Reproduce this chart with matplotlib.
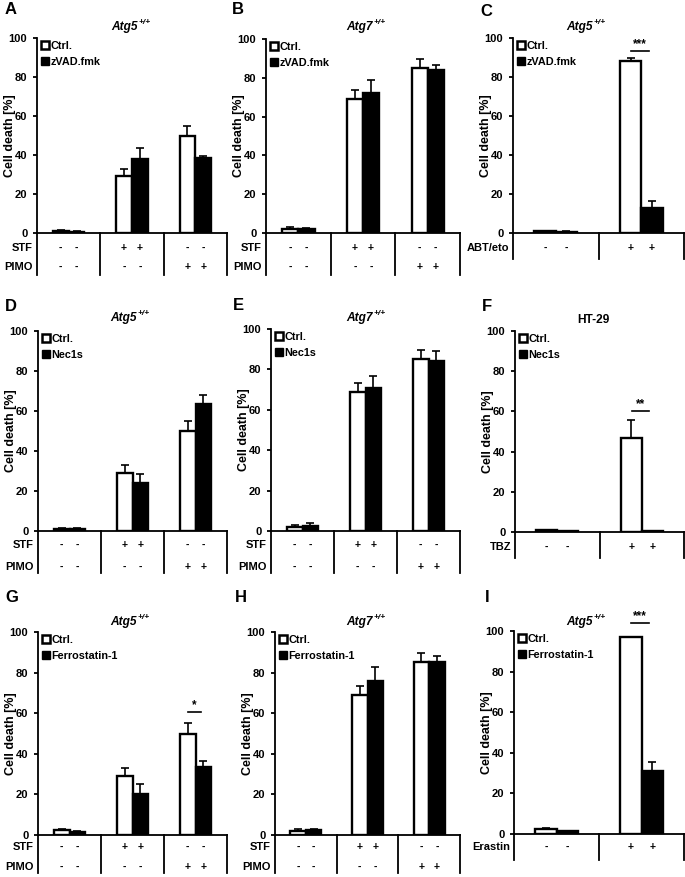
import matplotlib
matplotlib.use('Agg')
import matplotlib.pyplot as plt
import numpy as np
from matplotlib.patches import Patch
from matplotlib.transforms import blended_transform_factory

plt.rcParams['font.family'] = ['Liberation Sans', 'DejaVu Sans']
plt.rcParams['font.weight'] = 'bold'

W, H = 685, 877
fig = plt.figure(figsize=(W / 100, H / 100), dpi=100)

# ---------------- data ----------------
ctrl_label = "Ctrl."
row_stf = ['-', '-', '+', '+', '-', '-']
row_pimo = ['-', '-', '-', '-', '+', '+']
row_single = ['-', '-', '+', '+']

A_ctrl = [1.0, 29.0, 50.0]
A_ctrl_err = [0.3, 4.0, 5.0]
A_trt = [0.7, 38.0, 38.5]
A_trt_err = [0.2, 5.5, 1.0]

B_ctrl = [2.0, 69.0, 85.0]
B_ctrl_err = [0.9, 4.5, 4.5]
B_trt = [2.3, 72.0, 84.0]
B_trt_err = [0.5, 7.0, 2.5]

C_ctrl = [0.8, 88.0]
C_ctrl_err = [0.2, 2.0]
C_trt = [0.6, 13.0]
C_trt_err = [0.2, 3.6]

D_ctrl = [1.0, 29.0, 50.0]
D_ctrl_err = [0.3, 4.0, 5.0]
D_trt = [1.0, 24.0, 63.5]
D_trt_err = [0.3, 4.3, 4.3]

E_ctrl = [2.2, 69.0, 85.0]
E_ctrl_err = [0.8, 4.5, 4.5]
E_trt = [2.7, 71.0, 84.0]
E_trt_err = [1.2, 5.5, 5.0]

F_ctrl = [0.8, 47.0]
F_ctrl_err = [0.2, 8.5]
F_trt = [0.5, 0.3]
F_trt_err = [0.1, 0.1]

G_ctrl = [2.5, 29.0, 50.0]
G_ctrl_err = [0.5, 4.0, 5.0]
G_trt = [1.5, 20.0, 33.5]
G_trt_err = [0.3, 5.3, 2.8]

H_ctrl = [2.2, 69.0, 85.0]
H_ctrl_err = [0.9, 4.5, 4.5]
H_trt = [2.3, 76.0, 85.0]
H_trt_err = [0.6, 7.0, 3.2]

I_ctrl = [2.5, 96.8]
I_ctrl_err = [0.5, 0.3]
I_trt = [1.5, 31.0]
I_trt_err = [0.2, 4.3]

# significance: (group index, y, label)
C_sig = (1, 93.5, '***')
F_sig = (1, 60.0, '**')
G_sig = (2, 60.5, '*')
I_sig = (1, 104.0, '***')

# ---------------- layout (pixels) ----------------
panels = [
    dict(letter='A', box=(37, 38, 227, 233), lpos=(5, 10), title='Atg5', tpos=(133, 27),
         ctrl=A_ctrl, ce=A_ctrl_err, trt=A_trt, te=A_trt_err, tlabel='zVAD.fmk',
         rows=[('STF', row_stf, 15), ('PIMO', row_pimo, 34)], bottom=42, sig=None),
    dict(letter='B', box=(266, 39, 460, 233), lpos=(232, 10), title='Atg7', tpos=(368, 27),
         ctrl=B_ctrl, ce=B_ctrl_err, trt=B_trt, te=B_trt_err, tlabel='zVAD.fmk',
         rows=[('STF', row_stf, 15), ('PIMO', row_pimo, 34)], bottom=42, sig=None),
    dict(letter='C', box=(513, 38, 684, 233), lpos=(480, 11), title='Atg5', tpos=(588, 27),
         ctrl=C_ctrl, ce=C_ctrl_err, trt=C_trt, te=C_trt_err, tlabel='zVAD.fmk',
         rows=[('ABT/eto', row_single, 15)], bottom=26, sig=C_sig),
    dict(letter='D', box=(38, 331, 227, 531), lpos=(5, 307), title='Atg5', tpos=(132, 318),
         ctrl=D_ctrl, ce=D_ctrl_err, trt=D_trt, te=D_trt_err, tlabel='Nec1s',
         rows=[('STF', row_stf, 14), ('PIMO', row_pimo, 36)], bottom=42, sig=None),
    dict(letter='E', box=(271, 329, 460, 531), lpos=(233, 306), title='Atg7', tpos=(368, 318),
         ctrl=E_ctrl, ce=E_ctrl_err, trt=E_trt, te=E_trt_err, tlabel='Nec1s',
         rows=[('STF', row_stf, 14), ('PIMO', row_pimo, 36)], bottom=42, sig=None),
    dict(letter='F', box=(515, 331, 684, 532), lpos=(482, 307), title='HT-29', tpos=(593, 320),
         ctrl=F_ctrl, ce=F_ctrl_err, trt=F_trt, te=F_trt_err, tlabel='Nec1s',
         rows=[('TBZ', row_single, 15)], bottom=26, sig=F_sig),
    dict(letter='G', box=(38, 632, 227, 835), lpos=(5, 597), title='Atg5', tpos=(132, 622),
         ctrl=G_ctrl, ce=G_ctrl_err, trt=G_trt, te=G_trt_err, tlabel='Ferrostatin-1',
         rows=[('STF', row_stf, 12), ('PIMO', row_pimo, 32)], bottom=38, sig=G_sig),
    dict(letter='H', box=(275, 632, 460, 835), lpos=(235, 598), title='Atg7', tpos=(368, 622),
         ctrl=H_ctrl, ce=H_ctrl_err, trt=H_trt, te=H_trt_err, tlabel='Ferrostatin-1',
         rows=[('STF', row_stf, 12), ('PIMO', row_pimo, 32)], bottom=38, sig=None),
    dict(letter='I', box=(514, 631, 684, 834), lpos=(485, 598), title='Atg5', tpos=(588, 622),
         ctrl=I_ctrl, ce=I_ctrl_err, trt=I_trt, te=I_trt_err, tlabel='Ferrostatin-1',
         rows=[('Erastin', row_single, 13)], bottom=26, sig=I_sig),
]

LW = 1.3
BW = 0.25
FS = 8.0

for p in panels:
    l, t, r, b = p['box']
    axw, axh = r - l, b - t
    ax = fig.add_axes([l / W, 1 - b / H, axw / W, axh / H])
    n = len(p['ctrl'])
    x = np.arange(n)
    ctrl = np.array(p['ctrl'])
    trt = np.array(p['trt'])
    ax.bar(x - BW / 2, ctrl, BW, color='white', edgecolor='black', linewidth=1.7, zorder=3)
    ax.bar(x + BW / 2, trt, BW, color='black', edgecolor='black', linewidth=1.7, zorder=3)
    ax.errorbar(x - BW / 2, ctrl, yerr=[np.zeros(n), p['ce']], fmt='none', ecolor='black',
                elinewidth=1.2, capsize=2.6, capthick=1.2, zorder=2)
    ax.errorbar(x + BW / 2, trt, yerr=[np.zeros(n), p['te']], fmt='none', ecolor='black',
                elinewidth=1.2, capsize=2.6, capthick=1.2, zorder=2)

    ax.set_xlim(-0.5, n - 0.5)
    ax.set_ylim(0, 100)
    ax.set_yticks([0, 20, 40, 60, 80, 100])
    ax.set_xticks([])
    for s in ['top', 'right']:
        ax.spines[s].set_visible(False)
    for s in ['left', 'bottom']:
        ax.spines[s].set_linewidth(LW)
    ax.tick_params(axis='y', direction='out', length=3, width=LW, labelsize=FS, pad=4)
    for lab in ax.get_yticklabels():
        lab.set_fontweight('bold')
    ax.set_ylabel('Cell death [%]', fontsize=9.0, fontweight='bold', va='center')
    ax.yaxis.set_label_coords(-27 / axw, 0.5)
    ax.patch.set_alpha(0)

    # legend
    handles = [Patch(facecolor='white', edgecolor='black', linewidth=1.8, label=ctrl_label),
               Patch(facecolor='black', edgecolor='black', linewidth=1.0, label=p['tlabel'])]
    ax.legend(handles=handles, loc='upper left', bbox_to_anchor=(4 / axw, 1 - 3 / axh),
              frameon=False, handlelength=0.7, handleheight=0.7,
              handletextpad=0.15, labelspacing=0.55, borderpad=0, borderaxespad=0,
              prop={'weight': 'bold', 'size': 7.8})

    # table below axis
    tr = blended_transform_factory(ax.transData, ax.transAxes)
    pos = np.ravel(np.column_stack([x - BW / 2, x + BW / 2]))
    for label, signs, off in p['rows']:
        yy = -off / axh
        ax.text(-4 / axw, yy, label, transform=ax.transAxes, ha='right', va='center',
                fontsize=8.0, fontweight='bold')
        for xp, sg in zip(pos, signs):
            ax.text(xp, yy, sg, transform=tr, ha='center', va='center',
                    fontsize=7.5, fontweight='bold')
    ybot = -p['bottom'] / axh
    for xs in np.arange(-0.5, n, 1.0):
        ax.plot([xs, xs], [0, ybot], transform=tr, color='black', lw=LW, clip_on=False)

    # significance
    if p['sig'] is not None:
        gi, sy, stxt = p['sig']
        ax.plot([gi - 0.12, gi + 0.09], [sy, sy], color='black', lw=1.2, clip_on=False)
        ax.text(gi - 0.015, sy + 0.5, stxt, ha='center', va='bottom', fontsize=8.5,
                fontweight='bold', clip_on=False)

    # panel letter
    lx, ly = p['lpos']
    fig.text(lx / W, 1 - ly / H, p['letter'], ha='left', va='center', fontsize=12,
             fontweight='bold')

    # title
    tx, ty = p['tpos']
    if p['title'] == 'HT-29':
        fig.text(tx / W, 1 - ty / H, p['title'], ha='center', va='center', fontsize=8.6,
                 fontweight='bold')
    else:
        tt = fig.text((tx + 5) / W, 1 - ty / H, p['title'], ha='right', va='center',
                      fontsize=8.6, fontweight='bold', style='italic')
        ax.annotate('+/+', xy=(1.0, 0.55), xycoords=tt, ha='left', va='bottom',
                    fontsize=6, fontweight='bold', style='italic', annotation_clip=False)

fig.savefig('out.png', dpi=100)
